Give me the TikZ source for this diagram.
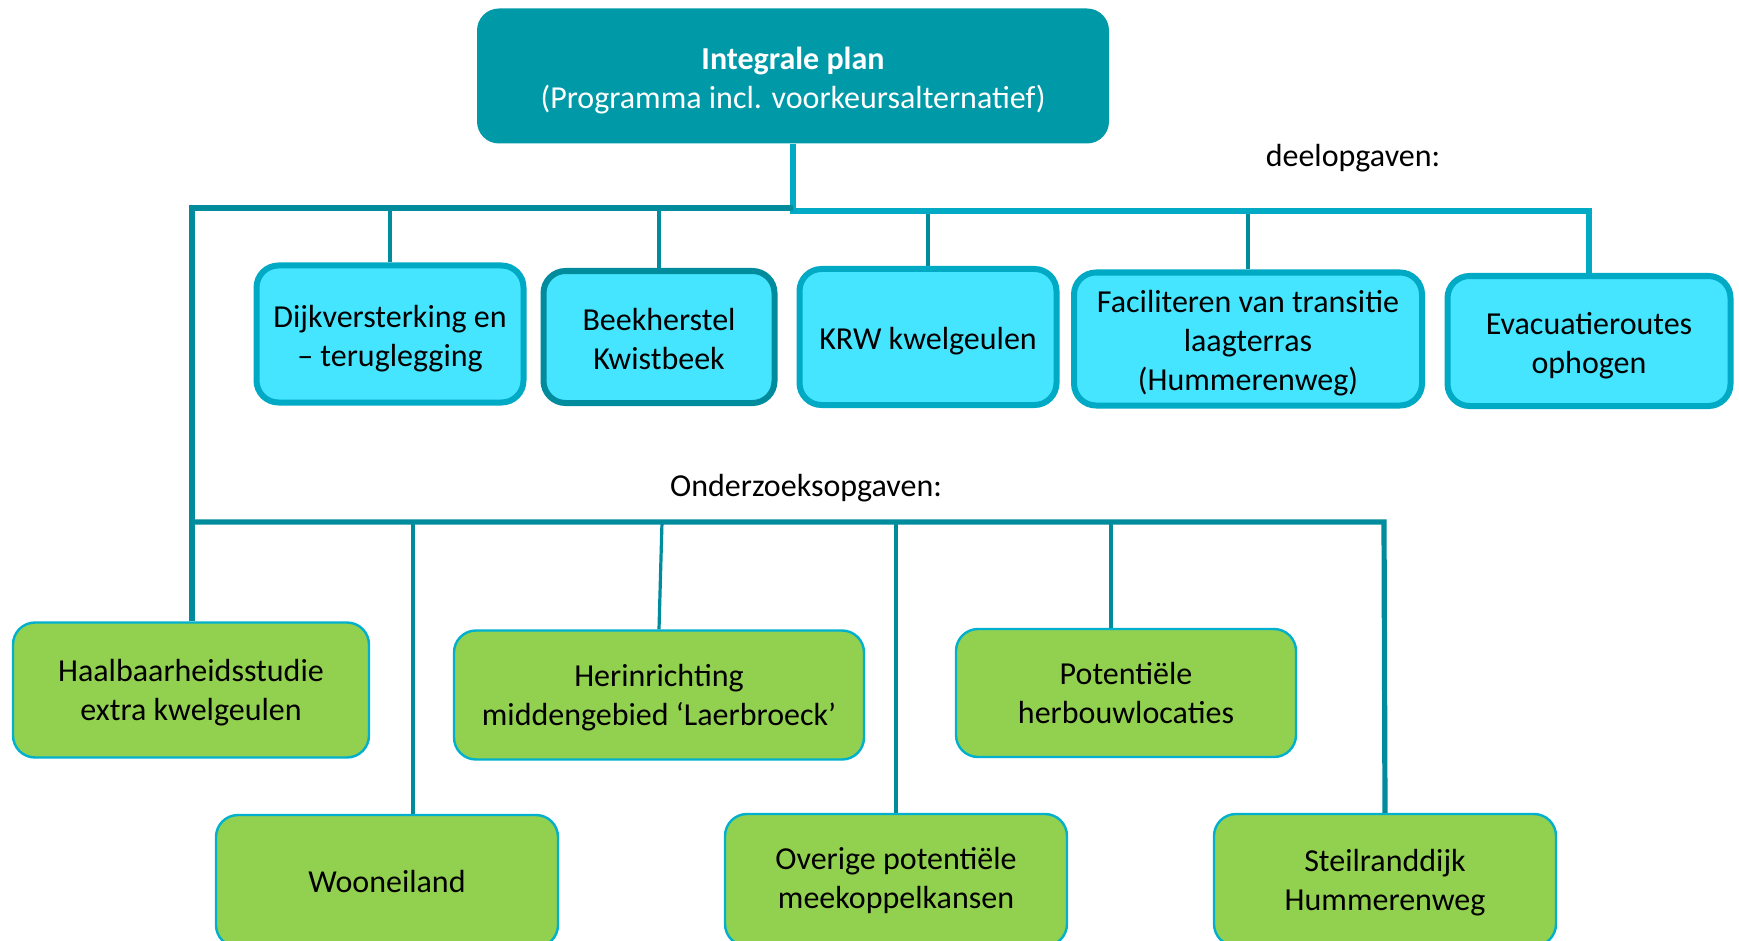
\documentclass[tikz,border=0pt]{standalone}
\usepackage{fontspec}
\setmainfont{Carlito}
\usepackage{xcolor}
\definecolor{planteal}{HTML}{0099A8}
\definecolor{lijndonker}{HTML}{008C9C}
\definecolor{lijnlicht}{HTML}{00A9C4}
\definecolor{taakfill}{HTML}{45E5FF}
\definecolor{studiefill}{HTML}{92D050}
\definecolor{studierand}{HTML}{00B0CC}
\newcommand{\stutA}{\rule{0pt}{15.6pt}}
\newcommand{\stutB}{\rule{0pt}{13.4pt}}
\tikzset{
  doos/.style 2 args={rectangle, rounded corners=11pt, align=center, inner sep=0pt,
    minimum width=#1pt, minimum height=#2pt, font=\fontsize{16}{19.5}\selectfont},
  plan/.style 2 args={doos={#1}{#2}, fill=planteal, text=white},
  taak/.style 2 args={doos={#1}{#2}, fill=taakfill, draw=lijnlicht, line width=3pt},
  studie/.style 2 args={doos={#1}{#2}, fill=studiefill, draw=studierand, line width=1.2pt},
  bus/.style={draw=lijndonker, line width=2.6pt},
  tak/.style={draw=lijndonker, line width=1.6pt},
  label/.style={font=\fontsize{16}{19.5}\selectfont, inner sep=0pt}
}
\begin{document}
\begin{tikzpicture}[x=0.5pt, y=-0.5pt]
    \useasboundingbox (0,0) rectangle (1739,941);
    \node[plan={316}{67.5}] (ip) at (793,76) {\stutA\textbf{Integrale plan}\\(Programma incl. voorkeursalternatief)};
    \node[label] (deel) at (1353,158) {deelopgaven:};
    \node[taak={133.5}{68.5}] (dijk) at ( 390,334) {\stutA Dijkversterking en\\– teruglegging};
    \node[taak={115.5}{66}, draw=lijndonker] (beek) at ( 659,337) {\stutB Beekherstel\\Kwistbeek};
    \node[taak={128.5}{68}] (krw)  at ( 928,337) {\stutA KRW kwelgeulen};
    \node[taak={174}{66.5}] (fac)  at (1248,339) {\stutA Faciliteren van transitie\\laagterras\\(Hummerenweg)};
    \node[taak={141.5}{65}] (evac) at (1589,341) {\stutA Evacuatieroutes\\ophogen};
    \node[label] (ond) at (806,488) {Onderzoeksopgaven:};
    \node[studie={178}{67.5}] (haal)  at ( 191,690) {\stutB Haalbaarheidsstudie\\extra kwelgeulen};
    \node[studie={205}{64.5}] (herin) at ( 659,695) {\stutB Herinrichting\\middengebied ‘Laerbroeck’};
    \node[studie={170}{64}]   (pot)   at (1126,693) {Potentiële\\herbouwlocaties};
    \node[studie={171}{66}]   (woon)  at ( 387,881) {Wooneiland};
    \node[studie={171}{66}]   (over)  at ( 896,880) {Overige potentiële\\meekoppelkansen};
    \node[studie={171}{66}]   (steil) at (1385,880) {\stutB Steilranddijk\\Hummerenweg};
    \coordinate (busL)  at ( 192,208);
    \coordinate (busM)  at ( 793,208);
    \coordinate (busR)  at ( 793,211);
    \coordinate (bus2L) at ( 192,522);
    \coordinate (bus2R) at (1384,522);
    \coordinate (t1) at ( 413,522);
    \coordinate (t2) at ( 662,522);
    \coordinate (t4) at (1111,522);
    \draw [tak] (dijk.north) -- (dijk.north |- busL);
    \draw [tak] (beek.north) -- (beek.north |- busL);
    \draw [tak] (krw.north) -- (krw.north |- busR);
    \draw [tak] (fac.north) -- (fac.north |- busR);
    \draw [bus, draw=lijnlicht] (ip.south) -- (busR) -| (evac.north);
    \draw [bus] (busM) -- (busL) -- (busL |- haal.north);
    \draw [tak] (t1) -- (t1 |- woon.north);
    \draw [tak] (t2) -- (herin.north);
    \draw [tak] (over.north |- bus2L) -- (over.north);
    \draw [tak] (t4) -- (t4 |- pot.north);
    \draw [bus] (bus2L) -- (bus2R) -- (steil.north);
\end{tikzpicture}
\end{document}
